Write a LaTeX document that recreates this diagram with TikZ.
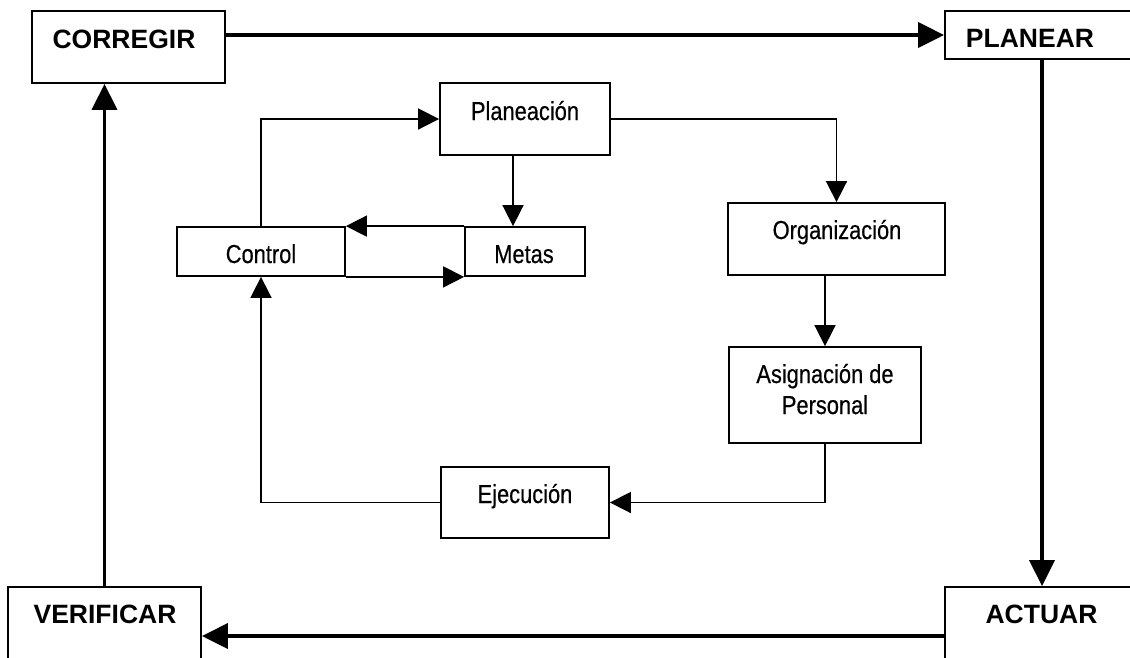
\documentclass[tikz,border=0pt]{standalone}
\usepackage{fontspec}
\setmainfont{Liberation Sans}
\newfontfamily\narrowsans[FakeStretch=0.84,FakeBold=0.4]{Liberation Sans}
\usetikzlibrary{arrows.meta}
\begin{document}
\begin{tikzpicture}[x=1pt,y=-1pt,
  obox/.style={draw, line width=1.8pt, inner sep=0pt},
  ibox/.style={draw, line width=1.8pt, inner sep=0pt},
  otxt/.style={inner sep=0pt, anchor=base, font=\fontsize{26.5}{30}\selectfont\bfseries},
  itxt/.style={inner sep=0pt, anchor=base, font=\narrowsans\fontsize{26}{31}\selectfont},
  oarrow/.style={line width=3.5pt, -{Triangle[length=26pt,width=25pt]}},
  iarrow/.style={line width=1.7pt, -{Triangle[length=21pt,width=21pt]}},
]
\useasboundingbox (0,0) rectangle (1130,657);
\fill[white] (0,0) rectangle (1130,657);
\clip (0,0) rectangle (1130,657);

% outer cycle boxes
\node[obox, minimum width=193pt, minimum height=72pt] (corregir) at (128.5,47) {};
\node[obox, minimum width=194pt, minimum height=48pt] (planear) at (1042,35) {};
\node[obox, minimum width=194pt, minimum height=98pt] (actuar) at (1042,636) {};
\node[obox, minimum width=193pt, minimum height=98pt] (verificar) at (104.5,636) {};

\node[otxt] (corregirT) at (124,48) {CORREGIR};
\node[otxt] (planearT) at (1030,47) {PLANEAR};
\node[otxt] (actuarT) at (1041.5,623) {ACTUAR};
\node[otxt] (verificarT) at (105,623) {VERIFICAR};

% inner process boxes
\node[ibox, minimum width=170pt, minimum height=72pt] (plan) at (525,119) {};
\node[ibox, minimum width=168pt, minimum height=49pt] (control) at (261,251.5) {};
\node[ibox, minimum width=120pt, minimum height=49pt] (metas) at (525,251.5) {};
\node[ibox, minimum width=217pt, minimum height=72pt] (org) at (836.5,239) {};
\node[ibox, minimum width=192pt, minimum height=96pt] (asig) at (825,395) {};
\node[ibox, minimum width=168pt, minimum height=71pt] (ejec) at (525,502.5) {};

\node[itxt] (planT) at (525,120) {Planeación};
\node[itxt] (controlT) at (261,263) {Control};
\node[itxt] (metasT) at (524,263) {Metas};
\node[itxt] (orgT) at (837,239) {Organización};
\node[itxt] (asigT) at (825,383) {Asignación de};
\node[itxt] (asigT2) at (825,414) {Personal};
\node[itxt] (ejecT) at (525,503) {Ejecución};

% outer cycle arrows
\draw[oarrow] (corregir.east |- planear.west) -- (planear.west);
\draw[oarrow] (planear.south) -- (actuar.north);
\draw[oarrow] (actuar.west) -- (verificar.east);
\draw[oarrow] (verificar.north) -- (verificar.north |- corregir.south);

% inner process arrows
\draw[iarrow] (control.north) |- (plan.west);
\draw[iarrow] ([xshift=-12pt]plan.south) -- ([xshift=-12pt]metas.north);
\draw[iarrow] (metas.north west) -- (control.north east);
\draw[iarrow] (control.south east) -- (metas.south west);
\draw[iarrow] (plan.east) -| (org.north);
\draw[iarrow] (org.south -| asig.north) -- (asig.north);
\draw[iarrow] (asig.south) |- (ejec.east);
\draw[iarrow] (ejec.west) -| (control.south);
\end{tikzpicture}
\end{document}
